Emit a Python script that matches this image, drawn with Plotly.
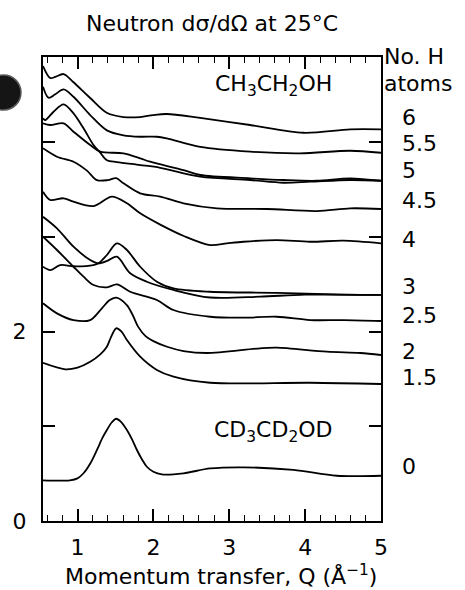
import plotly.graph_objects as go

# Neutron differential cross section of ethanol isotopomers, offset per sample.
# Momentum transfer Q (1/Angstrom) and intensity for each H-atom count.
q_h6 = [0.545, 0.64, 0.706, 0.816, 0.943, 1.167, 1.391, 1.606, 1.826, 1.997, 2.178, 2.617, 3.275, 3.978, 4.593, 5.0]
s_h6 = [4.805, 4.678, 4.689, 4.72, 4.636, 4.467, 4.308, 4.266, 4.266, 4.287, 4.298, 4.256, 4.182, 4.100, 4.136, 4.136]

q_h55 = [0.545, 0.618, 0.706, 0.816, 0.947, 1.167, 1.387, 1.606, 1.826, 2.046, 2.178, 2.617, 3.275, 3.934, 4.593, 5.0]
s_h55 = [4.586, 4.47, 4.506, 4.559, 4.48, 4.287, 4.125, 4.073, 4.058, 4.058, 4.04, 3.95, 3.90, 3.883, 3.91, 3.889]

q_h5a = [0.545, 0.574, 0.684, 0.816, 0.947, 1.079, 1.211, 1.299, 1.387, 1.519, 1.826, 2.09, 2.617, 3.275, 3.714, 4.066, 4.593, 5.0]
s_h5a = [4.252, 4.234, 4.322, 4.40, 4.305, 4.147, 3.97, 3.89, 3.81, 3.79, 3.759, 3.73, 3.636, 3.601, 3.572, 3.583, 3.601, 3.593]

q_h5b = [0.545, 0.64, 0.816, 0.947, 1.167, 1.299, 1.606, 1.826, 1.958, 2.397, 2.617, 3.275, 3.714, 4.154, 4.593, 5.0]
s_h5b = [4.20, 4.182, 4.20, 4.111, 3.970, 3.90, 3.883, 3.83, 3.794, 3.706, 3.654, 3.619, 3.601, 3.593, 3.619, 3.593]

q_h45 = [0.545, 0.729, 0.947, 1.124, 1.256, 1.40, 1.51, 1.606, 1.826, 2.09, 2.397, 2.837, 3.495, 4.154, 4.593, 5.0]
s_h45 = [3.936, 3.847, 3.794, 3.70, 3.60, 3.60, 3.62, 3.566, 3.46, 3.425, 3.355, 3.302, 3.295, 3.273, 3.302, 3.295]

q_h4 = [0.545, 0.64, 0.816, 0.947, 1.211, 1.453, 1.651, 1.826, 2.09, 2.4, 2.748, 2.968, 3.187, 3.627, 4.066, 4.505, 5.0]
s_h4 = [3.477, 3.39, 3.408, 3.372, 3.326, 3.425, 3.355, 3.249, 3.13, 3.01, 2.914, 2.932, 2.949, 2.967, 2.949, 2.96, 2.932]

q_h3a = [0.545, 0.729, 0.947, 1.167, 1.277, 1.40, 1.519, 1.694, 1.914, 2.265, 2.748, 3.407, 4.0, 5.0]
s_h3a = [3.213, 3.091, 2.897, 2.756, 2.721, 2.75, 2.791, 2.616, 2.527, 2.44, 2.36, 2.369, 2.39, 2.387]

q_h3b = [0.545, 0.64, 0.772, 0.947, 1.211, 1.277, 1.387, 1.519, 1.651, 1.826, 2.046, 2.265, 2.748, 3.627, 4.5, 5.0]
s_h3b = [2.685, 2.65, 2.703, 2.69, 2.703, 2.721, 2.809, 2.932, 2.862, 2.685, 2.527, 2.457, 2.421, 2.41, 2.39, 2.387]

q_h25 = [0.545, 0.729, 0.947, 1.079, 1.211, 1.387, 1.519, 1.694, 2.046, 2.265, 2.748, 3.187, 3.627, 4.066, 4.505, 5.0]
s_h25 = [3.002, 2.862, 2.685, 2.58, 2.492, 2.468, 2.499, 2.421, 2.334, 2.228, 2.157, 2.147, 2.157, 2.122, 2.122, 2.112]

q_h2 = [0.545, 0.729, 0.947, 1.167, 1.321, 1.42, 1.51, 1.65, 1.73, 1.80, 1.90, 2.0, 2.18, 2.397, 2.705, 3.407, 3.627, 4.286, 4.725, 5.0]
s_h2 = [2.299, 2.193, 2.122, 2.122, 2.246, 2.33, 2.358, 2.28, 2.17, 2.05, 1.95, 1.90, 1.84, 1.795, 1.774, 1.824, 1.83, 1.788, 1.774, 1.753]

q_h15 = [0.545, 0.838, 1.0, 1.167, 1.30, 1.387, 1.44, 1.51, 1.58, 1.651, 1.826, 2.046, 2.265, 2.748, 4.066, 5.0]
s_h15 = [1.67, 1.602, 1.62, 1.682, 1.76, 1.841, 1.94, 2.035, 2.0, 1.911, 1.735, 1.595, 1.524, 1.46, 1.46, 1.447]

q_h0 = [0.545, 0.9, 1.0, 1.079, 1.17, 1.256, 1.33, 1.387, 1.45, 1.51, 1.57, 1.651, 1.72, 1.783, 1.85, 1.914, 2.0, 2.112, 2.397, 2.748, 3.187, 3.846, 4.418, 5.0]
s_h0 = [0.43, 0.43, 0.45, 0.504, 0.61, 0.75, 0.88, 0.961, 1.04, 1.08, 1.05, 0.961, 0.86, 0.75, 0.65, 0.573, 0.52, 0.493, 0.504, 0.555, 0.567, 0.539, 0.478, 0.478]

h_atom_labels = ["6", "5.5", "5", "4.5", "4", "3", "2.5", "2", "1.5", "0"]
y_tick_labels = [0, 2]

curves = [
    (q_h6, s_h6), (q_h55, s_h55), (q_h5a, s_h5a), (q_h5b, s_h5b),
    (q_h45, s_h45), (q_h4, s_h4), (q_h3a, s_h3a), (q_h3b, s_h3b),
    (q_h25, s_h25), (q_h2, s_h2), (q_h15, s_h15), (q_h0, s_h0),
]

FONT = "DejaVu Sans"
SIZE = 22

fig = go.Figure()
for q, s in curves:
    fig.add_trace(go.Scatter(
        x=q, y=s, mode="lines",
        line=dict(color="black", width=1.8, shape="spline", smoothing=0.9),
        hoverinfo="skip", showlegend=False,
    ))

# label each sample at the right edge, just above its curve end
label_curves = [s_h6, s_h55, s_h5b, s_h45, s_h4, s_h3b, s_h25, s_h2, s_h15, s_h0]
label_lift = [0.12, 0.10, 0.11, 0.09, 0.04, 0.09, 0.06, 0.04, 0.07, 0.10]
annotations = []
for text, s, lift in zip(h_atom_labels, label_curves, label_lift):
    annotations.append(dict(
        text=text, xref="paper", x=1.056, xanchor="left",
        yref="y", y=s[-1] + lift, yanchor="middle",
        showarrow=False, font=dict(family=FONT, size=SIZE, color="black"),
    ))

annotations += [
    dict(text="No. H", xref="paper", x=1.004, xanchor="left",
         yref="paper", y=1.002, yanchor="middle", showarrow=False,
         font=dict(family=FONT, size=SIZE, color="black")),
    dict(text="atoms", xref="paper", x=1.004, xanchor="left",
         yref="paper", y=0.943, yanchor="middle", showarrow=False,
         font=dict(family=FONT, size=SIZE, color="black")),
    dict(text="Neutron dσ/dΩ at 25°C", xref="paper", x=0.5, xanchor="center",
         yref="paper", y=1.073, yanchor="middle", showarrow=False,
         font=dict(family=FONT, size=SIZE, color="black")),
    dict(text="CH<sub>3</sub>CH<sub>2</sub>OH", xref="x", x=3.578, xanchor="center",
         yref="y", y=4.60, yanchor="middle", showarrow=False,
         font=dict(family=FONT, size=SIZE, color="black")),
    dict(text="CD<sub>3</sub>CD<sub>2</sub>OD", xref="x", x=3.578, xanchor="center",
         yref="y", y=0.94, yanchor="middle", showarrow=False,
         font=dict(family=FONT, size=SIZE, color="black")),
    dict(text="Momentum transfer, Q (Å<sup>−1</sup>)", xref="paper", x=0.527,
         xanchor="center", yref="paper", y=-0.116, yanchor="middle",
         showarrow=False, font=dict(family=FONT, size=SIZE, color="black")),
]

axis_common = dict(
    showline=True, linecolor="black", linewidth=2, mirror="ticks",
    ticks="inside", ticklen=12, tickwidth=1.5, tickcolor="black",
    showgrid=False, zeroline=False,
    tickfont=dict(family=FONT, size=SIZE, color="black"),
)

fig.update_layout(
    width=465, height=590,
    margin=dict(l=43, r=84, t=57, b=69),
    plot_bgcolor="white", paper_bgcolor="white",
    xaxis=dict(
        range=[0.545, 5], tick0=1, dtick=1, ticklabelstandoff=6,
        minor=dict(tick0=0, dtick=0.2, ticks="inside", ticklen=6,
                   tickwidth=1.2, tickcolor="black", showgrid=False),
        **axis_common,
    ),
    yaxis=dict(
        range=[0, 4.9], tickvals=y_tick_labels, ticklabelstandoff=10,
        minor=dict(tick0=0, dtick=1, ticks="inside", ticklen=12,
                   tickwidth=1.5, tickcolor="black", showgrid=False),
        **axis_common,
    ),
    annotations=annotations,
    shapes=[
        dict(type="circle", xref="paper", yref="paper",
             x0=-0.1686, x1=-0.0651, y0=0.8858, y1=0.9612,
             fillcolor="#151515", line=dict(color="#5a5a5a", width=1.5)),
    ],
)

fig.write_html("out.html")
